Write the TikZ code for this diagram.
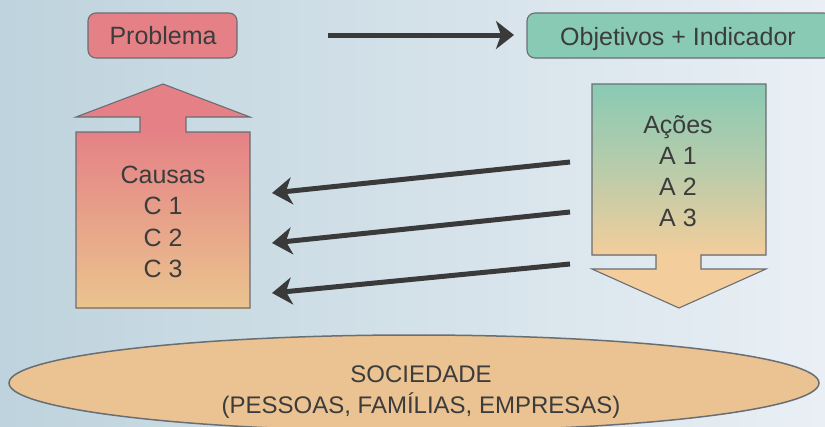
\documentclass[tikz,border=0pt]{standalone}
\usepackage{fontspec}
\setmainfont{Liberation Sans}
\usetikzlibrary{arrows.meta}
\definecolor{bgL}{RGB}{190,211,221}
\definecolor{bgR}{RGB}{233,239,245}
\definecolor{redF}{RGB}{229,129,134}
\definecolor{greenF}{RGB}{137,202,180}
\definecolor{peachC}{RGB}{234,196,142}
\definecolor{peachA}{RGB}{243,205,155}
\definecolor{ellF}{RGB}{235,195,146}
\definecolor{edgeC}{RGB}{105,110,115}
\definecolor{txtC}{RGB}{60,60,60}
\definecolor{arrC}{RGB}{58,58,58}
\tikzset{
  lbl/.style={anchor=base, text=txtC, inner sep=0pt, font=\fontsize{25}{31}\selectfont},
  ellbl/.style={anchor=base, text=txtC, inner sep=0pt, font=\fontsize{24}{31}\selectfont},
  edge/.style={draw=edgeC, line width=1.1pt, line join=miter},
  bigarrow/.style={draw=arrC, line width=5pt, -{Stealth[length=20pt,width=27pt,inset=6pt]}},
}
\begin{document}
\begin{tikzpicture}[x=1pt,y=-1pt]
\useasboundingbox (0,0) rectangle (825,426);
\clip (0,0) rectangle (825,426);
\shade[left color=bgL, right color=bgR] (0,0) rectangle (825,426);

% top boxes
\draw[edge, fill=redF, rounded corners=8pt] (88,13) rectangle (237,58);
\node[lbl] (prob) at (163,44) {Problema};
\draw[edge, fill=greenF, rounded corners=8pt] (527,13) rectangle (832,58);
\node[lbl] (obj) at (678,45) {Objetivos + Indicador};

% top arrow
\coordinate (t1) at (328,35);
\coordinate (t2) at (514,35);
\draw[draw=arrC, line width=5pt, -{Stealth[length=18pt,width=28pt,inset=5pt]}] (t1) -- (t2);

% Causas up-arrow shape
\fill[redF] (76,117) -- (163,84) -- (250,117) -- cycle;
\fill[redF] (140,116) rectangle (186,133);
\shade[top color=redF, bottom color=peachC] (76,132) rectangle (250,308);
\draw[edge] (76,308) -- (76,132) -- (140,132) -- (140,117) -- (76,117) -- (163,84)
  -- (250,117) -- (186,117) -- (186,132) -- (250,132) -- (250,308) -- cycle;
\node[lbl] (causas) at (163,183) {Causas};
\node[lbl] (c1) at (163,214.5) {C 1};
\node[lbl] (c2) at (163,246) {C 2};
\node[lbl] (c3) at (163,277.5) {C 3};

% Acoes down-arrow shape
\shade[top color=greenF, bottom color=peachA, middle color={rgb,255:red,185;green,204;blue,170}] (592,84) rectangle (766,255);
\fill[peachA] (656,254) rectangle (701,270);
\fill[peachA] (592,269) -- (766,269) -- (679,308) -- cycle;
\draw[edge] (592,84) -- (766,84) -- (766,255) -- (701,255) -- (701,269) -- (766,269)
  -- (679,308) -- (592,269) -- (656,269) -- (656,255) -- (592,255) -- cycle;
\node[lbl] (acoes) at (678,133) {Ações};
\node[lbl] (a1) at (678,164) {A 1};
\node[lbl] (a2) at (678,195) {A 2};
\node[lbl] (a3) at (678,226) {A 3};

% left arrows
\coordinate (r1) at (570,162);
\coordinate (l1) at (272,193);
\coordinate (r2) at (570,212);
\coordinate (l2) at (272,243);
\coordinate (r3) at (570,264);
\coordinate (l3) at (272,293);
\draw[bigarrow] (r1) -- (l1);
\draw[bigarrow] (r2) -- (l2);
\draw[bigarrow] (r3) -- (l3);

% Sociedade ellipse
\draw[draw=edgeC, line width=1.5pt, fill=ellF] (414,383) ellipse [x radius=405, y radius=48];
\node[ellbl] (soc) at (421,382) {SOCIEDADE};
\node[ellbl] (soc2) at (421,413) {(PESSOAS, FAMÍLIAS, EMPRESAS)};
\end{tikzpicture}
\end{document}
